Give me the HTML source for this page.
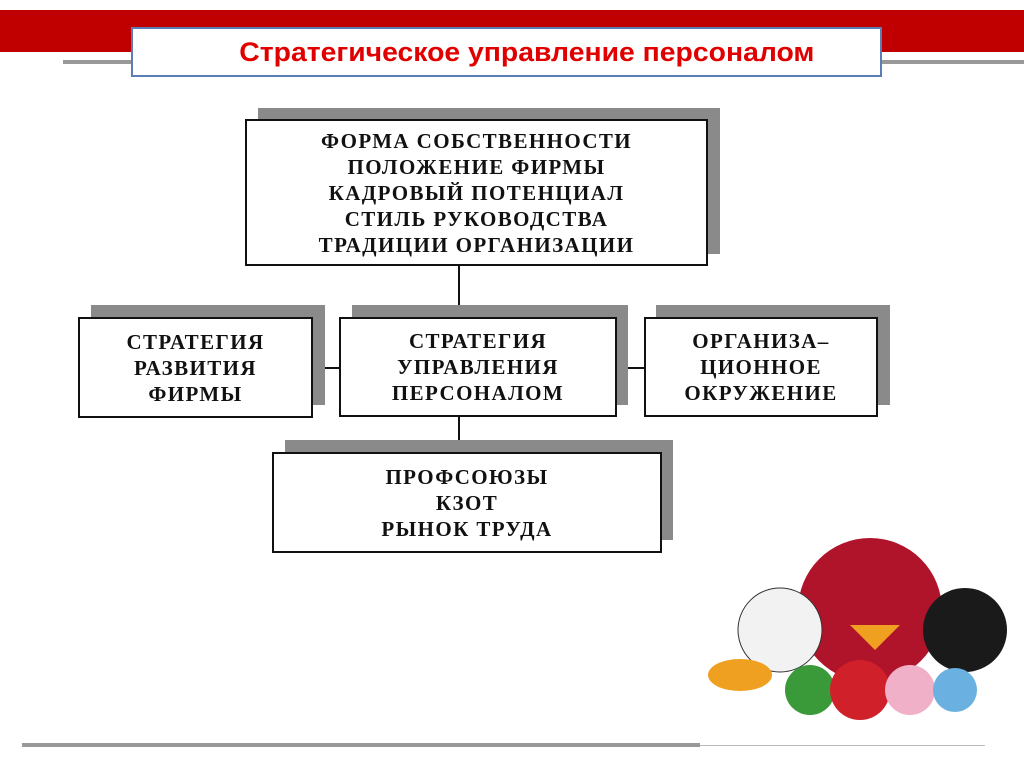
<!DOCTYPE html>
<html><head><meta charset="utf-8"><style>
body{margin:0;width:1024px;height:767px;background:#fff;position:relative;overflow:hidden;font-family:"Liberation Serif",serif}
.a{position:absolute}
.sh{position:absolute;background:#8a8a8a}
.bx{position:absolute;background:#fff;border:2px solid #111;box-sizing:border-box;display:flex;align-items:center;justify-content:center;text-align:center;font-weight:bold;font-size:21px;letter-spacing:1.4px;line-height:26px;color:#111}
</style></head><body>
<div class="a" style="left:0;top:10px;width:1024px;height:42px;background:#c00000"></div>
<div class="a" style="left:63px;top:60px;width:961px;height:4px;background:#999"></div>
<div class="a" style="left:131px;top:27px;width:751px;height:50px;background:#fff;border:2px solid #5b7fb5;box-sizing:border-box;display:flex;align-items:center;justify-content:center;font-family:'Liberation Sans',sans-serif;font-weight:bold;font-size:27px;color:#e00000"><span style="display:inline-block;transform:translateX(20px) scaleX(1.05)">Стратегическое управление персоналом</span></div>

<div class="a" style="left:458px;top:265px;width:2px;height:55px;background:#111"></div>
<div class="a" style="left:458px;top:415px;width:2px;height:40px;background:#111"></div>
<div class="a" style="left:312px;top:367px;width:340px;height:2px;background:#111"></div>

<div class="sh" style="left:258px;top:108px;width:462px;height:146px"></div>
<div class="bx" style="left:245px;top:119px;width:463px;height:147px">ФОРМА СОБСТВЕННОСТИ<br>ПОЛОЖЕНИЕ ФИРМЫ<br>КАДРОВЫЙ ПОТЕНЦИАЛ<br>СТИЛЬ РУКОВОДСТВА<br>ТРАДИЦИИ ОРГАНИЗАЦИИ</div>

<div class="sh" style="left:91px;top:305px;width:234px;height:100px"></div>
<div class="bx" style="left:78px;top:317px;width:235px;height:101px">СТРАТЕГИЯ<br>РАЗВИТИЯ<br>ФИРМЫ</div>

<div class="sh" style="left:352px;top:305px;width:276px;height:100px"></div>
<div class="bx" style="left:339px;top:317px;width:278px;height:100px">СТРАТЕГИЯ<br>УПРАВЛЕНИЯ<br>ПЕРСОНАЛОМ</div>

<div class="sh" style="left:656px;top:305px;width:234px;height:100px"></div>
<div class="bx" style="left:644px;top:317px;width:234px;height:100px">ОРГАНИЗА–<br>ЦИОННОЕ<br>ОКРУЖЕНИЕ</div>

<div class="sh" style="left:285px;top:440px;width:388px;height:100px"></div>
<div class="bx" style="left:272px;top:452px;width:390px;height:101px">ПРОФСОЮЗЫ<br>КЗОТ<br>РЫНОК ТРУДА</div>

<svg class="a" style="left:700px;top:530px" width="324" height="200">
<circle cx="170" cy="80" r="72" fill="#b0142a"/>
<circle cx="80" cy="100" r="42" fill="#f2f2f2" stroke="#333"/>
<circle cx="265" cy="100" r="42" fill="#1a1a1a"/>
<ellipse cx="40" cy="145" rx="32" ry="16" fill="#f0a020"/>
<circle cx="110" cy="160" r="25" fill="#3a9a3a"/>
<circle cx="160" cy="160" r="30" fill="#d0202a"/>
<circle cx="210" cy="160" r="25" fill="#f0b0c8"/>
<circle cx="255" cy="160" r="22" fill="#6ab0e0"/>
<polygon points="150,95 200,95 175,120" fill="#f0a020"/>
</svg>

<div class="a" style="left:22px;top:743px;width:678px;height:4px;background:#999"></div>
<div class="a" style="left:700px;top:745px;width:285px;height:1px;background:#bbb"></div>
</body></html>
